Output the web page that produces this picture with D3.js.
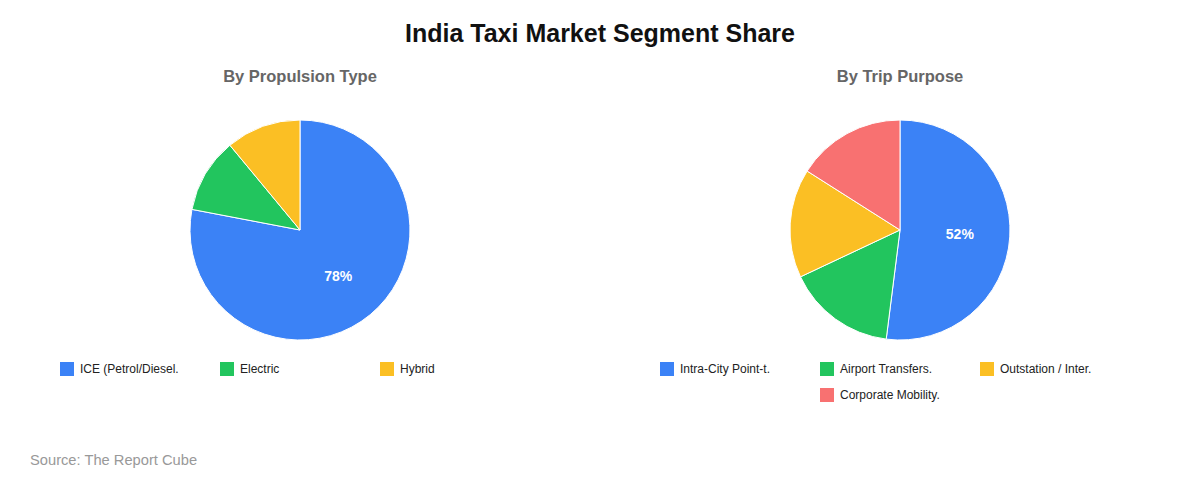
<!DOCTYPE html>
<html>
<head>
<meta charset="utf-8">
<script src="https://cdn.jsdelivr.net/npm/d3@7"></script>
<style>
  html, body { margin: 0; padding: 0; background: #fff; }
  svg { display: block; font-family: "Liberation Sans", Arial, sans-serif; }
</style>
</head>
<body>
<svg id="chart" width="1200" height="480"></svg>
<script>
const chartTitle = "India Taxi Market Segment Share";
const sourceText = "Source: The Report Cube";

const propulsionTitle = "By Propulsion Type";
const propulsionLabels = ["ICE (Petrol/Diesel.", "Electric", "Hybrid"];
const propulsionValues = [78, 11, 11];

const tripTitle = "By Trip Purpose";
const tripLabels = ["Intra-City Point-t.", "Airport Transfers.", "Outstation / Inter.", "Corporate Mobility."];
const tripValues = [52, 16, 16, 16];

const palette = ["#3b82f6", "#22c55e", "#fbbf24", "#f87171"];

const svg = d3.select("#chart");

svg.append("text")
  .attr("x", 600).attr("y", 42)
  .attr("text-anchor", "middle")
  .attr("font-size", 25).attr("font-weight", "bold")
  .attr("fill", "#111")
  .text(chartTitle);

svg.append("text")
  .attr("x", 30).attr("y", 465)
  .attr("font-size", 14.7)
  .attr("fill", "#999")
  .text(sourceText);

function drawPie(cx, title, labels, values) {
  const r = 110, cy = 230;
  const g = svg.append("g");
  g.append("text")
    .attr("x", cx).attr("y", 82)
    .attr("text-anchor", "middle")
    .attr("font-size", 16.5).attr("font-weight", "bold")
    .attr("fill", "#666")
    .text(title);

  const color = d3.scaleOrdinal().domain(labels).range(palette);
  const pie = d3.pie().sort(null).value(d => d.v);
  const data = labels.map((l, i) => ({ l, v: values[i] }));
  const arcs = pie(data);
  const arc = d3.arc().innerRadius(0).outerRadius(r);
  const labelArc = d3.arc().innerRadius(r * 0.545).outerRadius(r * 0.545);
  const total = d3.sum(values);

  const pg = g.append("g").attr("transform", `translate(${cx},${cy})`);
  pg.selectAll("path").data(arcs).join("path")
    .attr("d", arc)
    .attr("fill", d => color(d.data.l))
    .attr("stroke", "#fff").attr("stroke-width", 1);

  pg.selectAll("text").data(arcs.filter(d => d.data.v / total >= 0.2)).join("text")
    .attr("transform", d => `translate(${labelArc.centroid(d)})`)
    .attr("text-anchor", "middle")
    .attr("dy", "0.35em")
    .attr("font-size", 14).attr("font-weight", "bold")
    .attr("fill", "#fff")
    .text(d => Math.round(d.data.v / total * 100) + "%");

  // legend: 3 columns of 160px, rows centered
  const colW = 160, perRow = 3, rowH = 26, y0 = 369;
  const lg = g.append("g");
  labels.forEach((l, i) => {
    const row = Math.floor(i / perRow);
    const inRow = Math.min(perRow, labels.length - row * perRow);
    const startX = cx - inRow * colW / 2;
    const x = startX + (i % perRow) * colW;
    const y = y0 + row * rowH;
    lg.append("rect")
      .attr("x", x).attr("y", y - 7)
      .attr("width", 14).attr("height", 14)
      .attr("fill", color(l));
    lg.append("text")
      .attr("x", x + 20).attr("y", y)
      .attr("dy", "0.35em")
      .attr("font-size", 12)
      .attr("fill", "#222")
      .text(l);
  });
}

drawPie(300, propulsionTitle, propulsionLabels, propulsionValues);
drawPie(900, tripTitle, tripLabels, tripValues);
</script>
</body>
</html>
